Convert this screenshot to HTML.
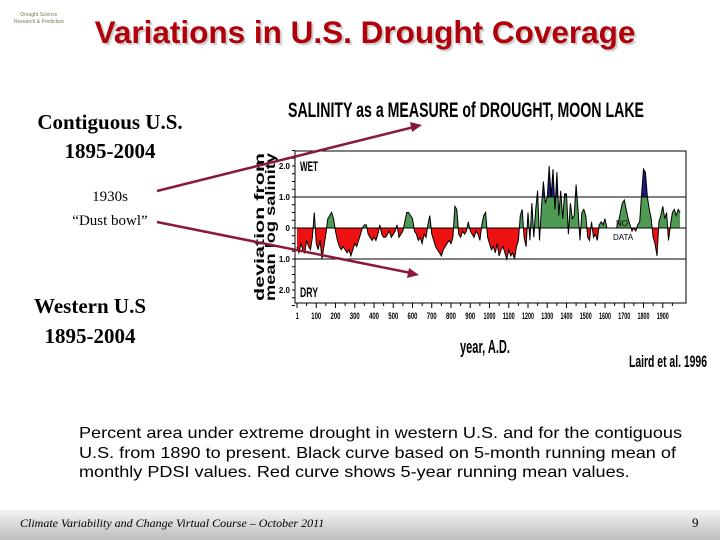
<!DOCTYPE html>
<html><head><meta charset="utf-8"><style>
body{margin:0;width:720px;height:540px;background:#fff;overflow:hidden;position:relative;font-family:"Liberation Sans",sans-serif}
.t{position:absolute;white-space:nowrap}
.tm{font-family:"Liberation Serif",serif;text-align:center}
</style></head><body>
<div class="t" style="left:14px;top:12px;font-size:5px;color:#775;line-height:7px;text-align:center">Drought Science<br>Research &amp; Prediction</div>
<div class="t" style="left:0;width:730px;top:14px;text-align:center;font-size:31.5px;font-weight:bold;color:#b0000a;text-shadow:2px 2px 1px #ccc">Variations in U.S. Drought Coverage</div>
<div class="t tm" style="left:0;width:220px;top:108px;font-size:21px;font-weight:bold;line-height:29px">Contiguous U.S.<br>1895-2004</div>
<div class="t tm" style="left:40px;width:140px;top:185px;font-size:15px;line-height:24px">1930s<br>“Dust bowl”</div>
<div class="t tm" style="left:0;width:180px;top:291px;font-size:21px;font-weight:bold;line-height:30px">Western U.S<br>1895-2004</div>
<div class="t" style="left:79px;top:424px;font-size:16px;line-height:19.5px;transform:scaleX(1.13);transform-origin:0 0">Percent area under extreme drought in western U.S. and for the contiguous<br>U.S. from 1890 to present. Black curve based on 5-month running mean of<br>monthly PDSI values. Red curve shows 5-year running mean values.</div>
<div style="position:absolute;left:0;top:510px;width:720px;height:30px;background:linear-gradient(#f4f4f4,#bdbdbd)"></div>
<div class="t" style="left:20px;top:516px;font-family:'Liberation Serif',serif;font-style:italic;font-size:12px">Climate Variability and Change Virtual Course – October 2011</div>
<div class="t" style="left:692px;top:515px;font-family:'Liberation Serif',serif;font-size:13px">9</div>
<svg id="chart" width="720" height="540" style="position:absolute;left:0;top:0" font-family="Liberation Sans,sans-serif">
<text x="466" y="117" text-anchor="middle" font-size="21" font-weight="bold" textLength="356" lengthAdjust="spacingAndGlyphs">SALINITY as a MEASURE of DROUGHT, MOON LAKE</text>
<text transform="translate(264,227) rotate(-90)" text-anchor="middle" font-size="14" font-weight="bold" textLength="148" lengthAdjust="spacingAndGlyphs">deviation from</text>
<text transform="translate(275,227) rotate(-90)" text-anchor="middle" font-size="14" font-weight="bold" textLength="148" lengthAdjust="spacingAndGlyphs">mean log salinity</text>
<g id="plot"></g>
<text x="485" y="353" text-anchor="middle" font-size="18" font-weight="bold" textLength="50" lengthAdjust="spacingAndGlyphs">year, A.D.</text>
<text x="668" y="367" text-anchor="middle" font-size="17" font-weight="bold" textLength="78" lengthAdjust="spacingAndGlyphs">Laird et al. 1996</text>
<line x1="157" y1="191" x2="414" y2="127" stroke="#8b1a3a" stroke-width="2.5"/>
<polygon points="422,125 410,122 412,132" fill="#8b1a3a"/>
<line x1="157" y1="222" x2="411" y2="273" stroke="#8b1a3a" stroke-width="2.5"/>
<polygon points="419,275 409,268 407,278" fill="#8b1a3a"/>
</svg>
<script>
const salinity=[-0.6,-0.8,-0.5,-0.7,-0.8,-0.4,-0.6,-0.7,-0.3,0.5,
-0.5,-0.7,-0.4,-1.0,-0.6,-0.2,0.3,0.4,0.5,0.3,
-0.1,-0.4,-0.6,-0.7,-0.6,-0.7,-0.8,-0.7,-0.9,-0.7,
-0.5,-0.6,-0.4,-0.2,0.0,0.1,0.1,-0.2,-0.3,-0.4,
-0.3,-0.4,-0.2,0.1,-0.2,-0.3,-0.3,-0.2,-0.1,-0.3,
-0.2,-0.1,0.1,-0.3,-0.2,-0.1,0.2,0.5,0.5,0.4,
0.3,-0.1,-0.2,-0.4,-0.3,-0.5,-0.2,-0.3,0.1,0.4,
-0.2,-0.4,-0.6,-0.7,-0.8,-0.9,-0.7,-0.6,-0.5,-0.4,
-0.5,-0.3,0.7,0.6,-0.2,-0.3,-0.1,-0.2,-0.1,0.2,
-0.1,-0.2,-0.3,-0.1,-0.2,-0.4,0.1,0.4,0.5,-0.3,
-0.5,-0.7,-0.6,-0.8,-0.5,-0.9,-0.7,-0.6,-0.8,-1.0,
-0.7,-0.9,-0.8,-1.0,-0.6,-0.4,0.4,0.6,-0.3,-0.6,
0.5,-0.4,0.8,-0.3,0.6,1.2,-0.4,0.7,1.5,0.8,
1.0,2.0,1.0,1.9,0.6,1.8,0.4,1.2,0.3,1.1,
1.1,-0.2,0.8,0.3,0.4,1.4,0.6,-0.4,0.5,0.6,
0.4,-0.3,-0.4,0.2,-0.3,-0.2,-0.4,0.1,0.2,0.1,
0.3,0,0,0,0,0,0,0.2,0.5,0.8,
0.9,0.6,0.3,0.1,-0.1,0.0,-0.1,0.1,0.2,1.1,
1.9,1.8,1.0,0.6,0.3,-0.3,-0.5,-0.9,0.2,0.4,
0.7,0.3,0.5,-0.4,0.1,0.5,0.6,0.4,0.6,0.5];
const yearStep=10;
const xTicks=[1,100,200,300,400,500,600,700,800,900,1000,1100,1200,1300,1400,1500,1600,1700,1800,1900];
const yTicks=[2,1,0,-1,-2];
const yTickLabels=["2.0","1.0","0","1.0","2.0"];
const X=yr=>297+yr*0.1925, Y=v=>228-v*31;
const L=295,R=686,T=151,B=303;
const ns="http://www.w3.org/2000/svg";
const g=document.getElementById('plot');
function mk(tag,at,parent){const e=document.createElementNS(ns,tag);for(const k in at)e.setAttribute(k,at[k]);(parent||g).appendChild(e);return e;}
let pts=salinity.map((v,i)=>[X(i*yearStep),Y(v)]);
let line="M"+pts.map(p=>p[0].toFixed(1)+","+p[1].toFixed(1)).join("L");
let area=line+"L"+pts[pts.length-1][0]+","+Y(0)+"L"+pts[0][0]+","+Y(0)+"Z";
const defs=mk('defs',{});
const clips=[["cRed",Y(0),B,"#ee1111"],["cGreen",Y(1),Y(0),"#4f9a55"],["cBlue",T,Y(1),"#1a1a7a"]];
clips.forEach(c=>{const cp=mk('clipPath',{id:c[0]},defs);mk('rect',{x:L,y:c[1],width:R-L,height:c[2]-c[1]},cp);
const a=mk('path',{d:area,fill:c[3],'clip-path':'url(#'+c[0]+')'});

});
const ln=mk('path',{d:line,fill:'none',stroke:'#000','stroke-width':1});


[1,0,-1].forEach(v=>{const h=mk('line',{x1:L,x2:R,y1:Y(v),y2:Y(v),stroke:'#000','stroke-width':1});

});
const fr=mk('rect',{x:L,y:T,width:R-L,height:B-T,fill:'none',stroke:'#000','stroke-width':1});


yTicks.forEach((v,i)=>{const t=mk('text',{x:290,y:Y(v)+3,'text-anchor':'end','font-size':8,'font-weight':'bold'});t.textContent=yTickLabels[i];

});
for(let v=2.5;v>=-2.5;v-=0.25){mk('line',{x1:L-3,x2:L,y1:Y(v),y2:Y(v),stroke:'#000'});}
for(let yr=0;yr<=1950;yr+=50){mk('line',{x1:X(yr),x2:X(yr),y1:B,y2:B+(yr%100?3:5),stroke:'#000'});}
xTicks.forEach(yr=>{const t=mk('text',{x:X(yr),y:319,'text-anchor':'middle','font-size':9,'font-weight':'bold',textLength:yr<10?3:(yr<1000?10:12),lengthAdjust:'spacingAndGlyphs'});t.textContent=yr;

});
[["WET",300,171],["DRY",300,297]].forEach(a=>{const t=mk('text',{x:a[1],y:a[2],'font-size':14,'font-weight':'bold',textLength:18,lengthAdjust:'spacingAndGlyphs'});t.textContent=a[0];

});
[["NO",616,226],["DATA",613,240]].forEach(a=>{const t=mk('text',{x:a[1],y:a[2],'font-size':8});t.textContent=a[0];

});
</script>
</body></html>
